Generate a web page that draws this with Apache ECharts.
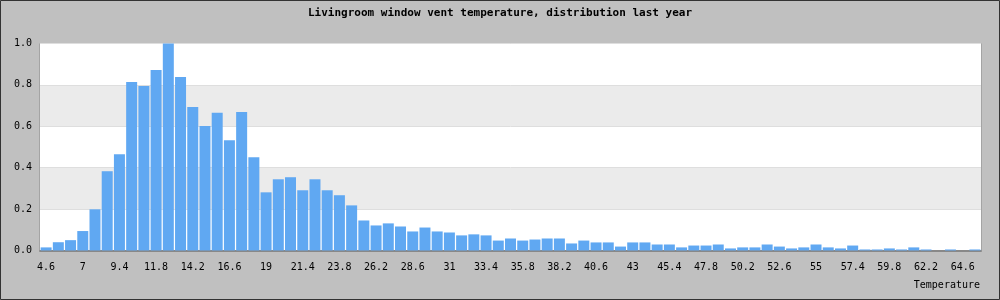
<!DOCTYPE html>
<html>
<head>
<meta charset="utf-8">
<script src="https://cdn.jsdelivr.net/npm/echarts@6/dist/echarts.min.js"></script>
<style>
html,body{margin:0;padding:0;background:#c0c0c0;}
#chart{width:1000px;height:300px;}
</style>
</head>
<body>
<div id="chart"></div>
<script>
var titleText = 'Livingroom window vent temperature, distribution last year';
var yAxisName = 'Occurrence';
var xAxisName = 'Temperature';
var categories = ['4.6','5.4','6.2','7','7.8','8.6','9.4','10.2','11','11.8','12.6','13.4','14.2','15','15.8','16.6','17.4','18.2','19','19.8','20.6','21.4','22.2','23','23.8','24.6','25.4','26.2','27','27.8','28.6','29.4','30.2','31','31.8','32.6','33.4','34.2','35','35.8','36.6','37.4','38.2','39','39.8','40.6','41.4','42.2','43','43.8','44.6','45.4','46.2','47','47.8','48.6','49.4','50.2','51','51.8','52.6','53.4','54.2','55','55.8','56.6','57.4','58.2','59','59.8','60.6','61.4','62.2','63','63.8','64.6','65.4'];
var occurrence = [0.015,0.04,0.05,0.094,0.199,0.383,0.465,0.814,0.795,0.872,1.0,0.838,0.693,0.601,0.665,0.533,0.669,0.451,0.281,0.344,0.354,0.291,0.344,0.291,0.267,0.218,0.145,0.121,0.131,0.116,0.092,0.111,0.092,0.087,0.073,0.078,0.073,0.048,0.058,0.048,0.053,0.058,0.058,0.034,0.048,0.039,0.039,0.019,0.039,0.039,0.029,0.029,0.015,0.024,0.024,0.029,0.010,0.015,0.015,0.029,0.019,0.010,0.015,0.029,0.015,0.010,0.024,0.005,0.005,0.010,0.005,0.015,0.005,0,0.005,0,0.005];
var yTicks = {min: 0, max: 1, interval: 0.2};

var chart = echarts.init(document.getElementById('chart'), null, {renderer: 'canvas'});
var mono = '"DejaVu Sans Mono", "Liberation Mono", monospace';
chart.setOption({
  backgroundColor: '#c0c0c0',
  animation: false,
  title: [{
    text: titleText,
    left: 'center',
    top: 8,
    padding: 0,
    textStyle: {fontFamily: mono, fontSize: 11, fontWeight: 'bold', color: '#000'}
  }, {
    text: xAxisName,
    right: 20,
    top: 280,
    padding: 0,
    textStyle: {fontFamily: mono, fontSize: 10, fontWeight: 'normal', color: '#000'}
  }],
  graphic: [{
    type: 'rect',
    silent: true,
    z: 100,
    shape: {x: 0.5, y: 0.5, width: 999, height: 299},
    style: {fill: 'none', stroke: '#333', lineWidth: 1}
  }],
  grid: {
    left: 40, top: 43.5, right: 19, bottom: 49.5,
    containLabel: false,
    outerBoundsMode: 'none',
    show: true, backgroundColor: '#fff', borderColor: '#888', borderWidth: 1
  },
  xAxis: {
    type: 'category',
    data: categories,
    axisTick: {show: false},
    axisLine: {show: true, lineStyle: {color: '#888', width: 2}},
    axisLabel: {interval: 2, margin: 12, fontFamily: mono, fontSize: 10, color: '#000'},
    splitLine: {show: false}
  },
  yAxis: {
    type: 'value',
    min: yTicks.min, max: yTicks.max, interval: yTicks.interval,
    name: yAxisName,
    nameLocation: 'middle',
    nameGap: 29,
    nameTextStyle: {fontFamily: mono, fontSize: 10, color: '#000'},
    axisLine: {show: false},
    axisTick: {show: false},
    axisLabel: {margin: 8, fontFamily: mono, fontSize: 10, color: '#000',
      formatter: function (v) { return v.toFixed(1); }},
    splitLine: {show: true, lineStyle: {color: '#dedede', width: 1}},
    splitArea: {show: true, areaStyle: {color: ['#ffffff', '#ebebeb']}}
  },
  series: [{
    type: 'bar',
    data: occurrence,
    barCategoryGap: '10%',
    itemStyle: {color: '#60a8f2'}
  }]
});
</script>
</body>
</html>
